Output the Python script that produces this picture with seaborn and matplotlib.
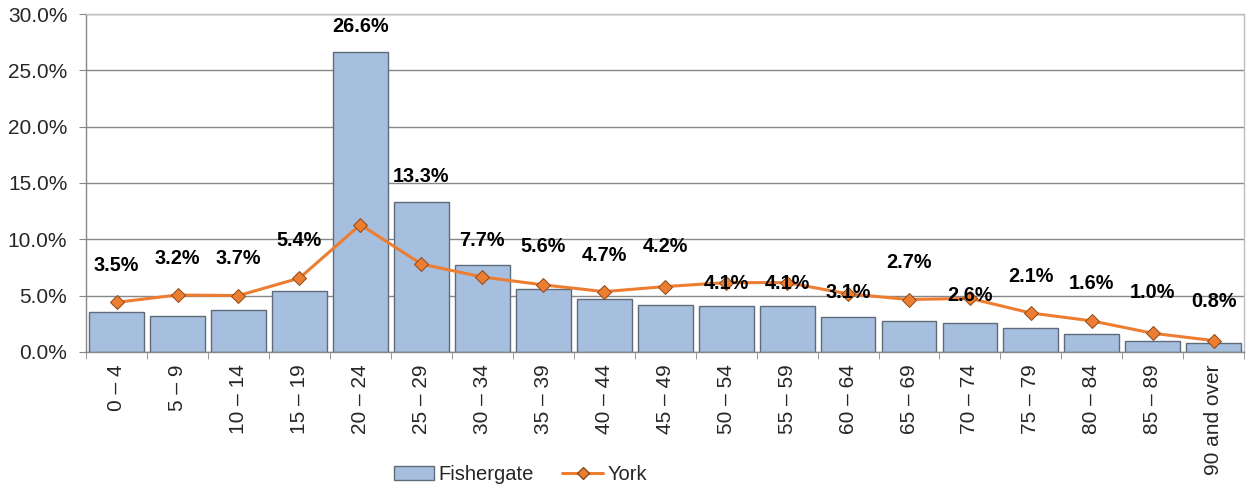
import numpy as np
import pandas as pd
import matplotlib
matplotlib.use("Agg")
import matplotlib.pyplot as plt
import seaborn as sns
from matplotlib.ticker import MultipleLocator, FuncFormatter
from matplotlib.lines import Line2D
from matplotlib.patches import Patch

# age bands
ages = ["0 \u2013 4", "5 \u2013 9", "10 \u2013 14", "15 \u2013 19", "20 \u2013 24",
        "25 \u2013 29", "30 \u2013 34", "35 \u2013 39", "40 \u2013 44", "45 \u2013 49",
        "50 \u2013 54", "55 \u2013 59", "60 \u2013 64", "65 \u2013 69", "70 \u2013 74",
        "75 \u2013 79", "80 \u2013 84", "85 \u2013 89", "90 and over"]
# percentages of population
fishergate = [3.5, 3.2, 3.7, 5.4, 26.6, 13.3, 7.7, 5.6, 4.7, 4.2,
              4.1, 4.1, 3.1, 2.7, 2.6, 2.1, 1.6, 1.0, 0.8]
york = [4.4, 5.05, 5.0, 6.55, 11.3, 7.8, 6.65, 5.95, 5.35, 5.8,
        6.15, 6.15, 5.15, 4.65, 4.75, 3.45, 2.75, 1.65, 1.0]

# where Excel happened to put the data labels (in % units)
label_y = [7.7, 8.3, 8.3, 9.9, 28.9, 15.6, 9.9, 9.4, 8.6, 9.4,
           6.1, 6.1, 5.3, 7.9, 5.0, 6.7, 6.1, 5.3, 4.5]

df = pd.DataFrame({"age": ages, "Fishergate": fishergate, "York": york})

sns.set_style("white")
plt.rcParams["font.family"] = ["Liberation Sans", "DejaVu Sans"]

fig = plt.figure(figsize=(12.48, 4.88), dpi=100)
ax = fig.add_axes([0.069, 0.279, 0.928, 0.692])

bar_col = "#A7BFDE"
line_col = "#ED7D31"

sns.barplot(data=df, x="age", y="Fishergate", color=bar_col, width=0.9,
            edgecolor="#5F6B78", linewidth=1.0, saturation=1, ax=ax, zorder=2)
ax.plot(range(len(ages)), df["York"], color=line_col, lw=2.2, zorder=3,
        marker="D", ms=7.5, mfc=line_col, mec="#8A4A1C", mew=0.7)

for i, (v, ly) in enumerate(zip(fishergate, label_y)):
    ax.text(i, ly, f"{v:.1f}%", ha="center", va="center", fontsize=14.3,
            fontweight="bold", color="black", zorder=4)

ax.set_ylim(0, 30)
ax.set_xlim(-0.5, len(ages) - 0.5)
ax.yaxis.set_major_locator(MultipleLocator(5))
ax.yaxis.set_major_formatter(FuncFormatter(lambda v, p: f"{v:.1f}%"))
ax.grid(axis="y", color="#878787", lw=1.0, zorder=0)
ax.set_axisbelow(True)
ax.set_xlabel("")
ax.set_ylabel("")

ax.set_xticks(range(len(ages)))
ax.set_xticklabels(ages, rotation=90, fontsize=15)
ax.tick_params(axis="x", length=0, pad=9)
ax.tick_params(axis="y", labelsize=15, length=5, color="#878787",
               direction="out", left=True, pad=8.5)
# category boundary ticks
ax.set_xticks(np.arange(-0.5, len(ages), 1), minor=True)
ax.tick_params(axis="x", which="minor", length=5, color="#878787", bottom=True)

for s in ["left", "bottom"]:
    ax.spines[s].set_color("#878787")
    ax.spines[s].set_linewidth(1.0)
for s in ["top", "right"]:
    ax.spines[s].set_color("#BDBDBD")
    ax.spines[s].set_linewidth(1.0)

handles = [Patch(facecolor=bar_col, edgecolor="#5F6B78", label="Fishergate"),
           Line2D([0], [0], color=line_col, lw=2.2, marker="D", ms=6.5,
                  mfc=line_col, mec="#8A4A1C", label="York")]
fig.legend(handles=handles, loc="center", bbox_to_anchor=(0.417, 0.027),
           ncol=2, frameon=False, fontsize=14.5, handlelength=2.0,
           handletextpad=0.25, columnspacing=1.4)

fig.savefig("out.png", dpi=100)
